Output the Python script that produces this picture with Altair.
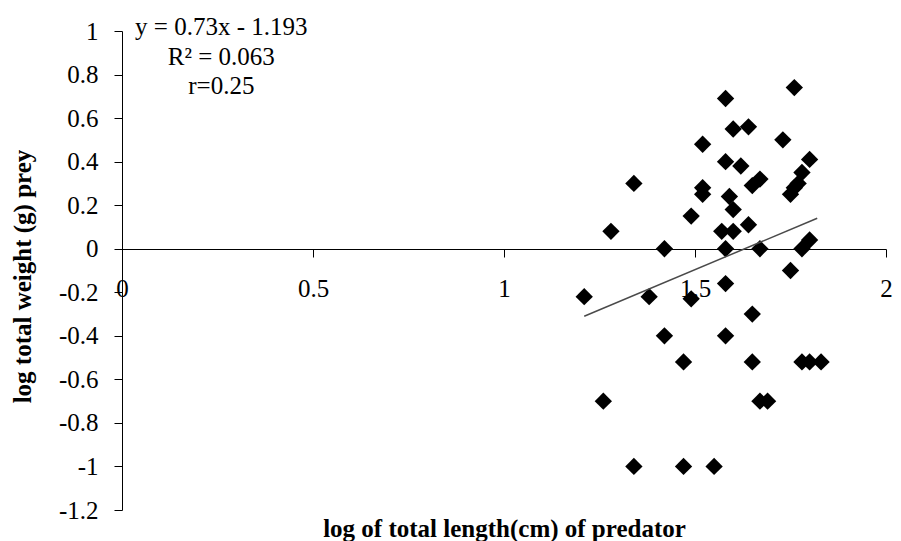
import altair as alt
import pandas as pd

# predator log length (x) vs prey log weight (y)
log_length = [1.76, 1.58, 1.60, 1.64, 1.73, 1.52, 1.80, 1.58, 1.62, 1.34,
              1.67, 1.65, 1.78, 1.77, 1.76, 1.75, 1.52, 1.52, 1.59, 1.60,
              1.49, 1.64, 1.28, 1.57, 1.60, 1.42, 1.58, 1.67, 1.80, 1.78,
              1.75, 1.58, 1.21, 1.38, 1.49, 1.65, 1.42, 1.58, 1.47, 1.65,
              1.78, 1.80, 1.83, 1.26, 1.67, 1.69, 1.34, 1.47, 1.55]
log_weight = [0.74, 0.69, 0.55, 0.56, 0.50, 0.48, 0.41, 0.40, 0.38, 0.30,
              0.32, 0.29, 0.35, 0.30, 0.28, 0.25, 0.28, 0.25, 0.24, 0.18,
              0.15, 0.11, 0.08, 0.08, 0.08, 0.00, 0.00, 0.00, 0.04, 0.00,
              -0.10, -0.16, -0.22, -0.22, -0.23, -0.30, -0.40, -0.40, -0.52, -0.52,
              -0.52, -0.52, -0.52, -0.70, -0.70, -0.70, -1.00, -1.00, -1.00]

# trend line end points (y = 0.73x - 1.193)
trend_x = [1.21, 1.82]
trend_y = [-0.31, 0.14]

# annotation
note_text = ["y = 0.73x - 1.193", "R\u00b2 = 0.063", "r=0.25"]
note_x = [0.26, 0.26, 0.26]
note_y = [1.02, 0.882, 0.749]

x_ticks = [0, 0.5, 1, 1.5, 2]
y_ticks = [-1.2, -1.0, -0.8, -0.6, -0.4, -0.2, 0, 0.2, 0.4, 0.6, 0.8, 1.0]

pts = pd.DataFrame({"x": log_length, "y": log_weight})
trend = pd.DataFrame({"x": trend_x, "y": trend_y})
notes = pd.DataFrame({"x": note_x, "y": note_y, "t": note_text})

FONT = "Liberation Serif"
W, H = 764, 479
label_expr = "replace(format(datum.value, '~g'), '\u2212', '-')"

xscale = alt.Scale(domain=[0, 2], nice=False, zero=False)
yscale = alt.Scale(domain=[-1.2, 1], nice=False, zero=False)

xaxis = alt.Axis(
    values=x_ticks, labelExpr=label_expr, grid=False, offset=-261,
    tickSize=8, labelPadding=19, labelFontSize=25, labelFont=FONT,
    labelColor="black", domainColor="black", tickColor="black",
    title="log of total length(cm) of predator", titleFont=FONT,
    titleFontSize=25, titleFontWeight="bold", titleColor="black",
    titleY=287, titleBaseline="alphabetic", titleX=W / 2, titleAlign="center",
    labelFlush=False, labelOverlap=False,
)
yaxis = alt.Axis(
    values=y_ticks, labelExpr=label_expr, grid=False,
    tickSize=8, labelPadding=16, labelFontSize=25, labelFont=FONT,
    labelColor="black", domainColor="black", tickColor="black",
    title="log total weight (g) prey", titleFont=FONT,
    titleFontSize=25, titleFontWeight="bold", titleColor="black",
    titleAngle=270, titleX=-92, titleY=245, titleAlign="center",
    titleBaseline="alphabetic",
    labelFlush=False, labelOverlap=False,
)

points = alt.Chart(pts).mark_point(
    shape="diamond", filled=True, size=300, color="black", opacity=1
).encode(
    x=alt.X("x:Q", scale=xscale, axis=xaxis),
    y=alt.Y("y:Q", scale=yscale, axis=yaxis),
)

line = alt.Chart(trend).mark_line(color="#4a4a4a", strokeWidth=1.5).encode(
    x="x:Q", y="y:Q"
)

text = alt.Chart(notes).mark_text(
    font=FONT, fontSize=25, color="black", align="center", baseline="middle"
).encode(x="x:Q", y="y:Q", text="t:N")

chart = alt.layer(points, line, text).properties(
    width=W, height=H,
    autosize=alt.AutoSizeParams(type="none"),
    padding={"left": 114, "top": 23, "right": 7, "bottom": 31},
    background="white",
).configure_view(stroke=None)

chart.save("out.html", embed_options={"renderer": "svg", "actions": False})
